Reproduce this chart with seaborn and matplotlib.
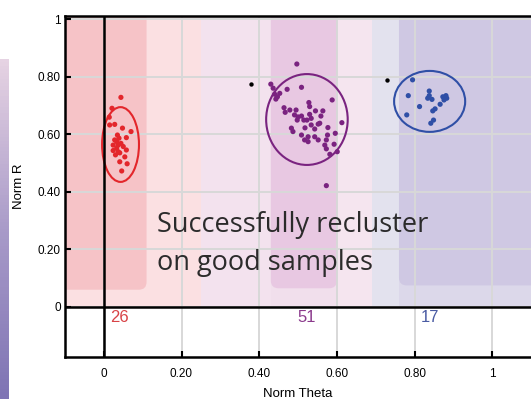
import numpy as np
import pandas as pd
import matplotlib
matplotlib.use("Agg")
import matplotlib.pyplot as plt
import seaborn as sns
from matplotlib.patches import Ellipse, Rectangle, FancyBboxPatch

# cluster points (Norm Theta, Norm R)
red_theta = [0.044, 0.021, 0.014, 0.028, 0.048, 0.070, 0.058, 0.039, 0.033, 0.024,
             0.037, 0.044, 0.033, 0.058, 0.024, 0.037, 0.030, 0.041, 0.060, 0.046,
             0.028, 0.035, 0.050, 0.041, 0.015, 0.054]
red_r = [0.729, 0.691, 0.660, 0.635, 0.622, 0.610, 0.589, 0.587, 0.575, 0.563,
         0.563, 0.569, 0.552, 0.546, 0.544, 0.540, 0.529, 0.505, 0.498, 0.473,
         0.581, 0.598, 0.558, 0.536, 0.633, 0.522]

purple_theta = [0.497, 0.430, 0.436, 0.440, 0.447, 0.453, 0.472, 0.509, 0.588, 0.464,
                0.467, 0.528, 0.530, 0.491, 0.500, 0.509, 0.515, 0.523, 0.530, 0.545,
                0.559, 0.564, 0.534, 0.552, 0.543, 0.483, 0.487, 0.509, 0.526, 0.517,
                0.526, 0.543, 0.577, 0.596, 0.613, 0.576, 0.573, 0.593, 0.569, 0.573,
                0.582, 0.601, 0.573, 0.498, 0.534, 0.556, 0.479, 0.518, 0.495, 0.552,
                0.443]
purple_r = [0.845, 0.775, 0.761, 0.740, 0.731, 0.743, 0.757, 0.764, 0.720, 0.693,
            0.677, 0.711, 0.697, 0.668, 0.661, 0.664, 0.650, 0.650, 0.670, 0.682,
            0.664, 0.682, 0.633, 0.636, 0.619, 0.622, 0.610, 0.598, 0.592, 0.581,
            0.575, 0.592, 0.624, 0.604, 0.641, 0.598, 0.581, 0.566, 0.563, 0.550,
            0.531, 0.540, 0.422, 0.650, 0.656, 0.639, 0.685, 0.623, 0.685, 0.581,
            0.723]

blue_theta = [0.795, 0.784, 0.780, 0.813, 0.838, 0.838, 0.834, 0.845, 0.873, 0.881,
              0.876, 0.883, 0.866, 0.853, 0.847, 0.849, 0.842]
blue_r = [0.790, 0.735, 0.668, 0.697, 0.751, 0.735, 0.726, 0.722, 0.731, 0.735,
          0.720, 0.726, 0.705, 0.689, 0.682, 0.650, 0.639]

outlier_theta = [0.379, 0.729]
outlier_r = [0.776, 0.790]

# ellipse centre x, centre y, width, height
ellipses = {
    "red": (0.043, 0.565, 0.095, 0.26),
    "purple": (0.523, 0.652, 0.21, 0.316),
    "blue": (0.839, 0.715, 0.183, 0.212),
}
counts = ["26", "51", "17"]
count_x = [0.040, 0.523, 0.840]

colors = {"red": "#e3262b", "purple": "#7a2380", "blue": "#2f4fa6"}
count_colors = ["#d84347", "#8b3a8c", "#4a5ba3"]

df = pd.concat([
    pd.DataFrame({"theta": red_theta, "r": red_r, "cluster": "red"}),
    pd.DataFrame({"theta": purple_theta, "r": purple_r, "cluster": "purple"}),
    pd.DataFrame({"theta": blue_theta, "r": blue_r, "cluster": "blue"}),
])

fig = plt.figure(figsize=(5.31, 3.99), dpi=100)

# purple slide edge on the far left
strip = fig.add_axes([0, 0, 9 / 531, 340 / 399], zorder=0)
grad = np.linspace(0, 1, 100).reshape(-1, 1)
strip.imshow(grad, aspect="auto", cmap=matplotlib.colors.LinearSegmentedColormap.from_list(
    "s", ["#7f74b4", "#a99bc9", "#e6d3e3"]), origin="lower")
strip.axis("off")

ax = fig.add_axes([65 / 531, 42 / 399, 466 / 531, 341 / 399], zorder=1)

# background bands
bands = [(-0.10, 0.25, "#fbe0e2"), (0.25, 0.43, "#f3e2ee"), (0.43, 0.60, "#f1dfec"),
         (0.60, 0.69, "#f5e5ef"), (0.69, 0.76, "#e3e2ee"), (0.76, 1.10, "#dcd8ea")]
for x0, x1, c in bands:
    ax.add_patch(Rectangle((x0, 0), x1 - x0, 1.02, color=c, lw=0, zorder=0))
boxes = [(-0.12, 0.11, 0.06, "#f6c3c7"), (0.43, 0.60, 0.065, "#e8c8e2"),
         (0.76, 1.15, 0.075, "#cfc8e3")]
for x0, x1, y0, c in boxes:
    ax.add_patch(FancyBboxPatch((x0, y0), x1 - x0, 1.05 - y0,
                                boxstyle="round,pad=0,rounding_size=0.02",
                                mutation_aspect=1.35, color=c, lw=0, zorder=0.5))

ax.set_xlim(-0.10, 1.10)
ax.set_ylim(-0.174, 1.012)
ax.set_xticks([0, 0.2, 0.4, 0.6, 0.8, 1])
ax.set_xticklabels(["0", "0.20", "0.40", "0.60", "0.80", "1"])
ax.set_yticks([0, 0.2, 0.4, 0.6, 0.8, 1])
ax.set_yticklabels(["0", "0.20", "0.40", "0.60", "0.80", "1"])
ax.grid(True, color="#d8d8d8", lw=1.4)
for gl in ax.get_xgridlines() + ax.get_ygridlines():
    gl.set_zorder(1)

ax.axvline(0, color="black", lw=1.8, zorder=3.5)
ax.axhline(0, color="black", lw=1.8, zorder=3.5)

sns.scatterplot(data=df, x="theta", y="r", hue="cluster", palette=colors, s=14,
                linewidth=0, legend=False, ax=ax, zorder=4)
ax.scatter(outlier_theta, outlier_r, color="black", s=10, lw=0, zorder=4)

for name, (cx, cy, w, h) in ellipses.items():
    ax.add_patch(Ellipse((cx, cy), w, h, fill=False, ec=colors[name], lw=1.5, zorder=3))

for txt, x, c in zip(counts, count_x, count_colors):
    ax.text(x, -0.038, txt, color=c, fontsize=12, ha="center", va="center",
            family="Liberation Sans", zorder=5)

ax.text(0.137, 0.261, "Successfully recluster", fontsize=19.5, family="Open Sans",
        color="#2b2b2b", va="baseline", ha="left", zorder=6)
ax.text(0.137, 0.129, "on good samples", fontsize=19.5, family="Open Sans",
        color="#2b2b2b", va="baseline", ha="left", zorder=6)

for side in ["top", "left", "bottom"]:
    ax.spines[side].set_linewidth(1.8)
    ax.spines[side].set_color("black")
    ax.spines[side].set_zorder(7)
ax.spines["right"].set_visible(False)
ax.tick_params(direction="in", length=4, width=1.5, labelsize=8.5)
ax.tick_params(axis="y", pad=3)
ax.tick_params(axis="x", pad=8)
for lab in ax.get_xticklabels() + ax.get_yticklabels():
    lab.set_family("Liberation Sans")
ax.set_xlabel("Norm Theta", fontsize=9.5, family="Liberation Sans", labelpad=6)
ax.set_ylabel("Norm R", fontsize=9.5, family="Liberation Sans", labelpad=9)

fig.savefig("out.png", dpi=100)
